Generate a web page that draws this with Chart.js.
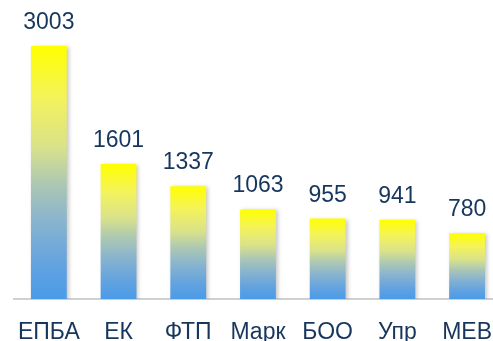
<!DOCTYPE html>
<html>
<head>
<meta charset="utf-8">
<script src="https://cdn.jsdelivr.net/npm/chart.js@4/dist/chart.umd.min.js"></script>
<style>
    html, body { margin: 0; padding: 0; background: #fff; overflow: hidden; }
    #wrap { width: 504px; height: 341px; }
</style>
</head>
<body>
<div id="wrap"><canvas id="barChart"></canvas></div>
<script>
const categories = ['ЕПБА', 'ЕК', 'ФТП', 'Марк', 'БОО', 'Упр', 'МЕВ'];
const values = [3003, 1601, 1337, 1063, 955, 941, 780];

const textColor = '#17365d';
const fontFamily = '"Liberation Sans", Arial, sans-serif';

// vertical yellow -> blue fill, one gradient per bar
function barGradient(context) {
    const chart = context.chart;
    const y = chart.scales.y;
    if (!chart.chartArea || !y || context.parsed === undefined) return '#4a9be8';
    const top = y.getPixelForValue(context.parsed.y);
    const bottom = y.getPixelForValue(0);
    const g = chart.ctx.createLinearGradient(0, top, 0, bottom);
    g.addColorStop(0, '#ffff00');
    g.addColorStop(0.2, '#f4f35a');
    g.addColorStop(0.4, '#d9e28a');
    g.addColorStop(0.55, '#abc7b4');
    g.addColorStop(0.7, '#87b3cf');
    g.addColorStop(0.87, '#62a2e0');
    g.addColorStop(1, '#4a9be8');
    return g;
}

// soft shadow behind the bars
const barShadow = {
    id: 'barShadow',
    beforeDatasetDraw(chart) {
        const ctx = chart.ctx;
        ctx.save();
        ctx.shadowColor = 'rgba(0, 0, 0, 0.22)';
        ctx.shadowBlur = 4;
        ctx.shadowOffsetX = 2;
        ctx.shadowOffsetY = 1;
    },
    afterDatasetDraw(chart) {
        chart.ctx.restore();
    },
};

// value labels above each bar
const valueLabels = {
    id: 'valueLabels',
    afterDatasetsDraw(chart) {
        const ctx = chart.ctx;
        const meta = chart.getDatasetMeta(0);
        ctx.save();
        ctx.font = '23px ' + fontFamily;
        ctx.fillStyle = textColor;
        ctx.textAlign = 'center';
        ctx.textBaseline = 'alphabetic';
        meta.data.forEach((bar, i) => {
            ctx.fillText(String(values[i]), bar.x, bar.y - 17);
        });
        ctx.restore();
    },
};

new Chart(document.getElementById('barChart').getContext('2d'), {
    type: 'bar',
    data: {
        labels: categories,
        datasets: [{
            data: values,
            backgroundColor: barGradient,
            borderWidth: 0,
            barPercentage: 0.514,
            categoryPercentage: 1,
        }],
    },
    options: {
        responsive: true,
        maintainAspectRatio: false,
        animation: false,
        layout: {
            padding: { left: 14, right: 0, top: 0, bottom: 0 },
        },
        scales: {
            y: {
                display: false,
                min: 0,
                max: 3549,
            },
            x: {
                grid: { display: false },
                border: { display: true, color: '#d0d0d0', width: 2 },
                ticks: {
                    color: textColor,
                    font: { family: fontFamily, size: 23 },
                    padding: 12,
                    maxRotation: 0,
                    autoSkip: false,
                },
                afterFit(scale) {
                    scale.height = 42;
                },
            },
        },
        plugins: {
            legend: { display: false },
            tooltip: { enabled: false },
        },
    },
    plugins: [barShadow, valueLabels],
});
</script>
</body>
</html>
